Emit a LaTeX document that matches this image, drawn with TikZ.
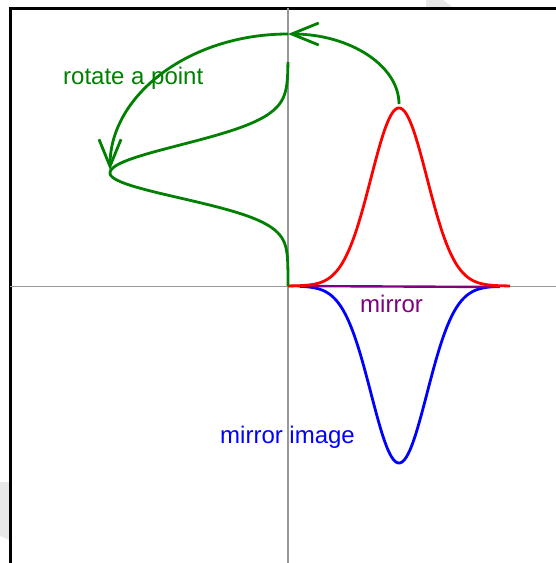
\documentclass[tikz,border=0pt]{standalone}
\usepackage{fontspec}
\setmainfont{Liberation Sans}
\usetikzlibrary{arrows.meta}
\definecolor{dgreen}{RGB}{0,128,0}
\definecolor{mpurple}{RGB}{128,0,128}
\tikzset{
  curve/.style={line width=2.8pt},
  lbl/.style={anchor=base west, inner sep=0pt, font=\fontsize{24}{28}\selectfont},
  barb/.style={-{Straight Barb[length=27pt,width=22pt]}},
  axisline/.style={draw=gray!80, line width=1.3pt},
  ghost/.style={fill=gray!18, draw=none}
}
\begin{document}
\begin{tikzpicture}[x=1pt,y=1pt]
\useasboundingbox (0,0) rectangle (556,-563);
\fill[white] (0,0) rectangle (556,-563);
% faint ghost shapes
\fill[ghost] (426,0) -- (443,0) -- (454,-8) -- (426,-8) -- cycle;
\fill[ghost] (0,-482) -- (10,-482) -- (10,-540) -- (0,-536) -- cycle;
% frame
\draw[line width=3pt, black] (10,-563) -- (10,-8) -- (556,-8);
% axes
\coordinate (yt) at (288,-8);
\coordinate (yb) at (288,-563);
\coordinate (xl) at (10,-286);
\coordinate (xr) at (556,-286);
\draw[axisline] (yt) -- (yb);
\draw[draw=gray!80, line width=0.8pt] (xl) -- (xr);
% mirror image (blue)
\draw[curve, blue] plot[domain=300:498, samples=120, smooth] (\x, {-286-177*exp(-((\x-399)*(\x-399))/1568)});
% mirror line
\coordinate (m0) at (288,-286);
\coordinate (m1) at (500,-287);
\draw[line width=2.4pt, mpurple] (m0) -- (m1);
% original (red)
\draw[curve, red] plot[domain=288:510, samples=150, smooth] (\x, {-286+178*exp(-((\x-399)*(\x-399))/1568)});
% rotated (green)
\draw[curve, dgreen] plot[domain=0:113, samples=70, smooth] ({288-178*exp(-((\x-113)*(\x-113))/1250)}, {-286+\x})
  -- plot[domain=113:224, samples=70, smooth] ({288-178*exp(-((\x-113)*(\x-113))/1568)}, {-286+\x});
% rotation arcs
\coordinate (peak) at (399,-104);
\coordinate (top) at (288,-34);
\draw[curve, dgreen, barb] (peak) arc[start angle=0, end angle=90, x radius=111pt, y radius=70pt];
\draw[curve, dgreen, barb] (top) arc[start angle=90, end angle=180, x radius=178pt, y radius=136pt];
% labels
\node[lbl, text=dgreen] (rot) at (63,-84) {rotate a point};
\node[lbl, text=mpurple] (mir) at (360,-312) {mirror};
\node[lbl, text=blue] (mimg) at (220,-443) {mirror image};
\end{tikzpicture}
\end{document}
